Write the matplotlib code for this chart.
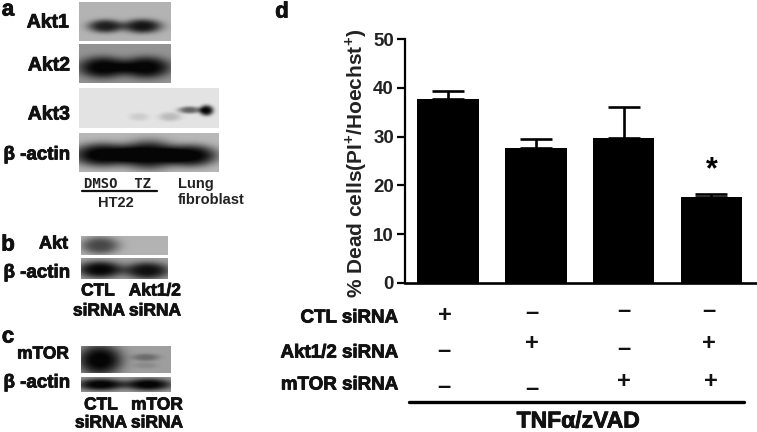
import numpy as np
import matplotlib
matplotlib.use("Agg")
import matplotlib.pyplot as plt
import matplotlib.patheffects as pe

plt.rcParams["font.family"] = ["Liberation Sans", "DejaVu Sans"]
plt.rcParams["font.weight"] = "bold"
plt.rcParams["axes.labelweight"] = "bold"
plt.rcParams["mathtext.fontset"] = "custom"
plt.rcParams["mathtext.bf"] = "Liberation Sans:bold"
plt.rcParams["mathtext.rm"] = "Liberation Sans:bold"

# Panel d values
means = [37.8, 27.7, 29.7, 17.7]
upper_err = [1.5, 1.8, 6.3, 0.6]
y_ticks = [0, 10, 20, 30, 40, 50]

row_labels = ["CTL siRNA", "Akt1/2 siRNA", "mTOR siRNA"]
ctl_signs = ["+", "–", "–", "–"]
akt_signs = ["–", "+", "–", "+"]
mtor_signs = ["–", "–", "+", "+"]

# Blots: (left, right, top, bottom), background grey, bands (x, y, half w, half h, darkness)
blot_boxes = {
    "akt1": (79, 171, 2, 41),
    "akt2": (79, 171, 44, 83),
    "akt3": (79, 219, 88, 128),
    "actin_a": (79, 219, 133, 172),
    "akt_b": (81, 168, 236, 255),
    "actin_b": (81, 168, 258, 279),
    "mtor_c": (81, 171, 346, 373),
    "actin_c": (81, 171, 377, 392),
}
blot_bg = {
    "akt1": 0.70, "akt2": 0.58, "akt3": 0.89, "actin_a": 0.72,
    "akt_b": 0.70, "actin_b": 0.62, "mtor_c": 0.62, "actin_c": 0.60,
}
blot_bands = {
    "akt1": [(0.29, 0.62, 0.19, 0.17, 0.58), (0.69, 0.62, 0.21, 0.18, 0.62)],
    "akt2": [(0.26, 0.60, 0.27, 0.28, 0.58), (0.73, 0.60, 0.27, 0.28, 0.58)],
    "akt3": [(0.79, 0.55, 0.08, 0.09, 0.50), (0.91, 0.56, 0.05, 0.13, 0.85),
             (0.43, 0.72, 0.07, 0.10, 0.09), (0.65, 0.72, 0.08, 0.11, 0.16)],
    "actin_a": [(0.17, 0.56, 0.22, 0.30, 0.74), (0.50, 0.56, 0.20, 0.36, 0.74),
                (0.80, 0.58, 0.19, 0.28, 0.72)],
    "akt_b": [(0.22, 0.50, 0.22, 0.46, 0.42)],
    "actin_b": [(0.22, 0.55, 0.26, 0.40, 0.60), (0.76, 0.60, 0.26, 0.40, 0.56)],
    "mtor_c": [(0.21, 0.52, 0.25, 0.58, 0.62), (0.72, 0.42, 0.15, 0.14, 0.20),
               (0.72, 0.72, 0.13, 0.12, 0.08)],
    "actin_c": [(0.22, 0.50, 0.26, 0.40, 0.60), (0.75, 0.50, 0.26, 0.40, 0.60)],
}


def blot_image(name):
    left, right, top, bottom = blot_boxes[name]
    h = bottom - top
    w = right - left
    yy, xx = np.mgrid[0:h, 0:w]
    fx = (xx + 0.5) / w
    fy = (yy + 0.5) / h
    img = np.full((h, w), blot_bg[name], dtype=float)
    for cx, cy, hw, hh, dark in blot_bands[name]:
        # flat-topped blob, real bands saturate in the middle
        r = ((fx - cx) / hw) ** 2 + ((fy - cy) / hh) ** 2
        img -= dark * np.exp(-(r ** 1.5))
    return np.clip(img, 0.02, 1)


# thicker strokes for the smeared look of the scanned labels
heavy = [pe.withStroke(linewidth=0.6, foreground="#111111")]

fig = plt.figure(figsize=(7.57, 4.32), dpi=100)

# Overlay in pixel coordinates for the blots and the labels
pix = fig.add_axes([0, 0, 1, 1])
pix.axis("off")

for name, (left, right, top, bottom) in blot_boxes.items():
    pix.imshow(blot_image(name), cmap="gray", vmin=0, vmax=1, aspect="auto",
               extent=(left, right, bottom, top), interpolation="bilinear")
pix.set_xlim(0, 757)
pix.set_ylim(432, 0)


def label(x, y, text, size, ha="center", **kw):
    return pix.text(x, y, text, fontsize=size, ha=ha, va="center", color="#111111",
                    path_effects=heavy, **kw)


# Panel letters
for letter, x, y in [("a", 8, 10), ("b", 8, 245), ("c", 8, 337), ("d", 282, 12)]:
    label(x, y, letter, 16)

# Blot names
blot_labels = [
    ("Akt1", 69, 23, 14), ("Akt2", 70, 66, 14), ("Akt3", 70, 115, 14),
    ("Akt", 68, 244, 13), ("mTOR", 69, 354, 12.5),
]
for text, x, y, size in blot_labels:
    label(x, y, text, size, ha="right")
for y in [155, 273, 383]:
    label(70, y, "β -actin", 13.5, ha="right")

# Panel a lane labels
pix.text(118, 184, "DMSO  TZ", fontsize=10, ha="center", va="center",
         family=["DejaVu Sans Mono", "DejaVu Sans"], color="#222222")
pix.plot([82, 157], [191, 191], color="#111111", lw=1.6, solid_capstyle="round")
pix.text(116, 203, "HT22", fontsize=10.5, ha="center", va="center", color="#222222")
pix.text(178, 184, "Lung", fontsize=10.5, ha="left", va="center", color="#222222")
pix.text(178, 200, "fibroblast", fontsize=10.5, ha="left", va="center", color="#222222")

# Lane labels under b and c
lane_labels = [
    ("CTL", 98, 291), ("siRNA", 99, 311), ("Akt1/2", 155, 291), ("siRNA", 155, 311),
    ("CTL", 101, 405), ("siRNA", 101, 423), ("mTOR", 157, 405), ("siRNA", 157, 423),
]
for text, x, y in lane_labels:
    label(x, y, text, 12.5)

# Panel d, bar chart
ax = fig.add_axes([405 / 757, 1 - 282.7 / 432, 352 / 757, 243.4 / 432])
ax.patch.set_alpha(0)
x = np.arange(len(means))
ax.bar(x, means, width=0.7, color="black")
ax.errorbar(x, means, yerr=[np.zeros(len(means)), upper_err], fmt="none",
            ecolor="black", elinewidth=1.9, capsize=11.5, capthick=1.9)
ax.set_xlim(-0.49, 3.52)
ax.set_ylim(0, 50)
ax.set_xticks([])
ax.set_yticks(y_ticks)
ax.tick_params(axis="y", width=1.6, length=6, labelsize=13.5, pad=2, labelcolor="#222222")
ax.spines["top"].set_visible(False)
ax.spines["right"].set_visible(False)
ax.spines["left"].set_linewidth(1.6)
ax.spines["bottom"].set_linewidth(1.9)
ax.set_ylabel("% Dead cells(PI$^{+}$/Hoechst$^{+}$)", fontsize=15, labelpad=3,
              color="#222222", y=0.49)
ax.text(3, 23, "*", fontsize=22, ha="center", va="center")

# Treatment table under the bars
sign_rows = [ctl_signs, akt_signs, mtor_signs]
label_y = [318, 353, 385]
sign_x = [[445, 532, 624, 709], [444, 532, 624, 709], [444, 532, 624, 711]]
sign_y = [[316, 312, 311, 310], [351, 344, 348, 343], [387, 388, 382, 381]]
for text, y in zip(row_labels, label_y):
    label(398, y, text, 13.5, ha="right")
for signs, xs, ys in zip(sign_rows, sign_x, sign_y):
    for sign, sx, sy in zip(signs, xs, ys):
        pix.text(sx, sy, sign, fontsize=17, ha="center", va="center", color="#111111")

pix.plot([409, 744], [402, 402], color="black", lw=2.4, solid_capstyle="round")
label(578, 421, "TNFα/zVAD", 16.5)

fig.savefig("out.png", dpi=100)
